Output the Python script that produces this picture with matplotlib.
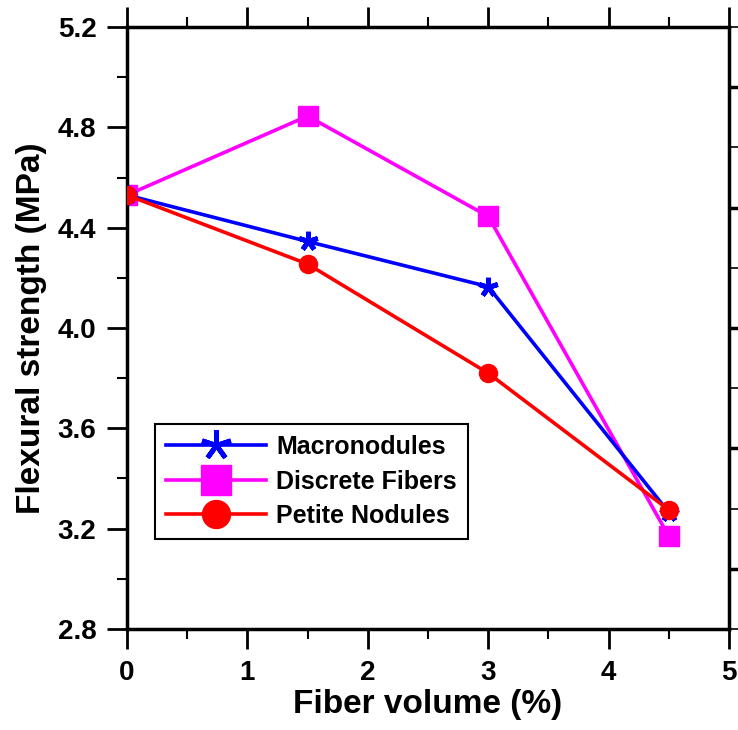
import matplotlib.pyplot as plt
from matplotlib.ticker import MultipleLocator, NullFormatter

plt.rcParams['font.family'] = ['Liberation Sans', 'DejaVu Sans']
plt.rcParams['font.weight'] = 'bold'

# Dados
volume = [0, 1.5, 3, 4.5]
macronodules = [4.53, 4.345, 4.165, 3.265]
discrete_fibers = [4.53, 4.845, 4.445, 3.17]
petite_nodules = [4.53, 4.255, 3.82, 3.275]

fig = plt.figure(figsize=(7.38, 7.30), dpi=100)
ax = fig.add_axes([127 / 738, 1 - 629 / 730, 602 / 738, 602 / 730])

ax.plot(volume, macronodules, color='blue', lw=2.6, marker=(5, 2, 0),
        ms=14, mew=3.5, label='Macronodules', zorder=3)
ax.plot(volume, discrete_fibers, color='magenta', lw=2.6, marker='s',
        ms=14, label='Discrete Fibers', zorder=2)
ax.plot(volume, petite_nodules, color='red', lw=2.6, marker='o',
        ms=13, label='Petite Nodules', zorder=4)

ax.set_xlim(0, 5)
ax.set_ylim(2.8, 5.2)
ax.xaxis.set_major_locator(MultipleLocator(1))
ax.xaxis.set_minor_locator(MultipleLocator(0.5))
ax.yaxis.set_major_locator(MultipleLocator(0.4))
ax.yaxis.set_minor_locator(MultipleLocator(0.2))
ax.yaxis.set_major_formatter(plt.FormatStrFormatter('%.1f'))

ax.tick_params(which='both', direction='out', top=True, right=False,
               labelsize=20, width=2)
ax.tick_params(which='major', length=14.4)
ax.tick_params(axis='x', which='major', pad=8)
ax.tick_params(axis='y', which='major', pad=7.5)
ax.tick_params(which='minor', length=7.5, width=1.5)
for s in ax.spines.values():
    s.set_linewidth(2.5)

# eixo direito sem rótulos
ax2 = ax.twinx()
ax2.set_ylim(0, 10)
ax2.yaxis.set_major_locator(MultipleLocator(2, offset=1))
ax2.yaxis.set_minor_locator(MultipleLocator(2))
ax2.yaxis.set_major_formatter(NullFormatter())
ax2.tick_params(which='major', direction='out', length=10, width=2.5)
ax2.tick_params(which='minor', direction='out', length=10, width=1.2)
for s in ax2.spines.values():
    s.set_visible(False)

ax.set_xlabel('Fiber volume (%)', fontsize=24, fontweight='bold', labelpad=2)
ax.set_ylabel('Flexural strength (MPa)', fontsize=24, fontweight='bold', labelpad=8)

leg = ax.legend(loc='upper left', bbox_to_anchor=(28 / 602, (629 - 424) / 602),
                fontsize=18, handlelength=4.0, markerscale=1.55,
                fancybox=False, edgecolor='black', framealpha=1,
                borderpad=0.45, labelspacing=0.42, handletextpad=0.4,
                borderaxespad=0)
leg.get_frame().set_linewidth(1.5)
for t in leg.get_texts():
    t.set_fontweight('bold')

plt.savefig('out.png', dpi=100)
plt.close()
